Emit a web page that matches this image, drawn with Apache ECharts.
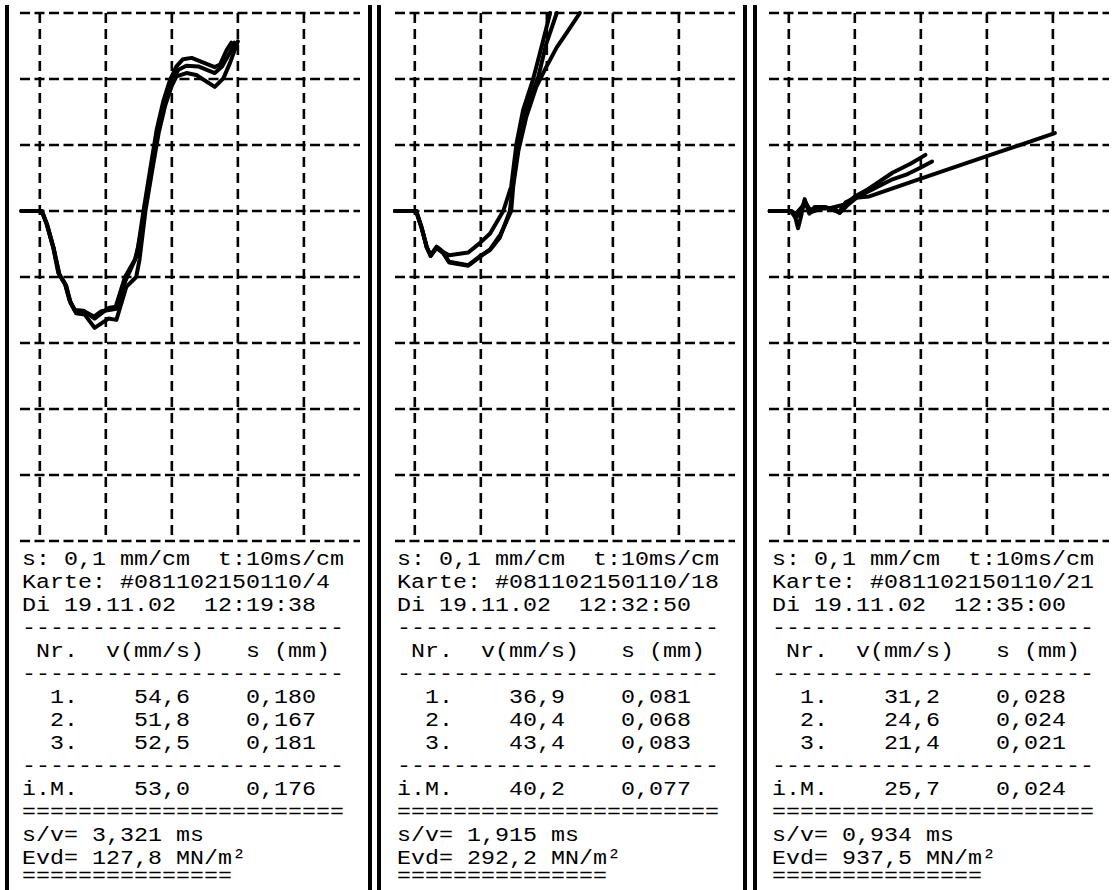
<!DOCTYPE html>
<html><head><meta charset="utf-8">
<script src="https://cdn.jsdelivr.net/npm/echarts@6/dist/echarts.min.js"></script>
<style>html,body{margin:0;padding:0;background:#fff}#c{width:1116px;height:890px}</style>
</head><body><div id="c"></div>
<script>
// ---- axes (t in ms, s in mm) ----
const timeGridLines = [0, 10, 20, 30, 40];
const dispGridLines = [-0.3, -0.2, -0.1, 0, 0.1, 0.2, 0.3, 0.4, 0.5];
const timeRange = [-3, 48.5];
const dispRange = [-0.3, 0.5];

// ---- panel 1 traces [t ms, s mm] ----
const p1Trace1 = [[-2.8,0],[0.3,0],[1.0,0.019],[2.0,0.054],[2.8,0.094],[3.8,0.110],[4.5,0.135],[5.3,0.150],[6.6,0.151],[8.3,0.163],[10.4,0.147],[11.5,0.145],[12.9,0.100],[14.4,0.074],[14.9,0.054],[15.7,0],[16.7,-0.062],[17.7,-0.123],[18.7,-0.166],[19.7,-0.198],[20.7,-0.219],[21.7,-0.230],[23.0,-0.232],[24.5,-0.226],[26.5,-0.218],[27.3,-0.222],[28.3,-0.244],[29.0,-0.255]];
const p1Trace2 = [[-2.8,0],[0.3,0],[1.1,0.020],[2.1,0.056],[2.9,0.095],[3.9,0.112],[4.6,0.138],[5.4,0.152],[6.7,0.152],[8.2,0.160],[9.3,0.152],[10.5,0.150],[11.6,0.148],[13.0,0.105],[14.6,0.070],[15.9,0],[16.9,-0.065],[17.9,-0.125],[18.9,-0.165],[19.9,-0.195],[21.0,-0.214],[22.2,-0.220],[24.0,-0.219],[26.5,-0.209],[27.6,-0.219],[28.8,-0.240],[29.5,-0.255]];
const p1Trace3 = [[-2.8,0],[0.3,0],[1.1,0.021],[2.1,0.057],[3.0,0.097],[4.0,0.113],[4.7,0.140],[5.5,0.155],[6.8,0.157],[8.3,0.177],[10.4,0.163],[11.6,0.165],[13.1,0.115],[14.6,0.100],[15.1,0.074],[16.0,0],[17.0,-0.060],[18.0,-0.118],[19.0,-0.160],[20.0,-0.190],[20.7,-0.204],[22.2,-0.209],[23.7,-0.206],[26.5,-0.188],[27.8,-0.201],[28.8,-0.224],[30.0,-0.257]];

// ---- panel 2 traces ----
const p2Trace1 = [[-3,0],[0.2,0],[1.0,0.024],[1.8,0.054],[2.4,0.067],[3.3,0.054],[4.3,0.062],[5.2,0.067],[8.1,0.063],[9.8,0.049],[11.4,0.034],[13.4,0],[14.6,-0.037],[15.4,-0.102],[16.4,-0.153],[17.9,-0.199],[19.2,-0.249],[20.5,-0.300]];
const p2Trace2 = [[-3,0],[0.2,0],[1.0,0.024],[1.8,0.055],[2.4,0.068],[3.3,0.055],[4.3,0.063],[5.2,0.077],[8.1,0.082],[9.8,0.069],[11.4,0.059],[12.9,0.040],[14.4,0],[15.2,-0.067],[15.9,-0.107],[17.0,-0.158],[18.7,-0.203],[19.9,-0.253],[21.5,-0.300]];
const p2Trace3 = [[-3,0],[0.2,0],[1.0,0.025],[1.8,0.055],[2.4,0.068],[3.3,0.056],[4.3,0.064],[5.2,0.078],[8.1,0.083],[9.8,0.070],[11.4,0.058],[13.0,0.035],[14.6,0],[14.9,-0.037],[15.7,-0.092],[16.9,-0.143],[18.4,-0.188],[19.9,-0.218],[21.5,-0.248],[23.0,-0.270],[25.0,-0.300]];

// ---- panel 3 traces ----
const p3Trace1 = [[-2.9,0],[0.3,0],[0.9,0.006],[1.4,0.026],[1.9,0.006],[2.4,-0.018],[3.1,0.004],[3.9,-0.006],[5.6,-0.006],[7.6,0.002],[8.6,-0.013],[10.1,-0.020],[12.2,-0.022],[20.0,-0.049],[30.0,-0.083],[40.3,-0.118]];
const p3Trace2 = [[-2.9,0],[0.3,0],[1.0,0.010],[1.6,0.005],[2.4,-0.015],[3.2,-0.002],[4.5,-0.004],[6.5,-0.005],[8.5,-0.010],[10.0,-0.022],[12.0,-0.033],[15.7,-0.058],[18.5,-0.072],[20.7,-0.085]];
const p3Trace3 = [[-2.9,0],[0.3,0],[1.1,0.004],[2.5,-0.012],[3.3,0.002],[5.0,-0.004],[7.0,-0.003],[7.7,0.003],[8.8,-0.008],[10.5,-0.022],[12.5,-0.032],[15.7,-0.048],[18.0,-0.056],[20.0,-0.066],[21.7,-0.075]];

// ---- printed report values ----
const scaleLine = 's: 0,1 mm/cm  t:10ms/cm';
const cardIds = ['#081102150110/4', '#081102150110/18', '#081102150110/21'];
const dateTimes = ['Di 19.11.02  12:19:38', 'Di 19.11.02  12:32:50', 'Di 19.11.02  12:35:00'];
const dropNumbers = ['1.', '2.', '3.'];
const vValues = [['54,6','51,8','52,5'], ['36,9','40,4','43,4'], ['31,2','24,6','21,4']];
const sValues = [['0,180','0,167','0,181'], ['0,081','0,068','0,083'], ['0,028','0,024','0,021']];
const vMeans = ['53,0', '40,2', '25,7'];
const sMeans = ['0,176', '0,077', '0,024'];
const svValues = ['3,321', '1,915', '0,934'];
const evdValues = ['127,8', '292,2', '937,5'];

const traces = [[p1Trace1,p1Trace2,p1Trace3],[p2Trace1,p2Trace2,p2Trace3],[p3Trace1,p3Trace2,p3Trace3]];

// ---- layout ----
const gridLefts = [20, 395, 769];
const textLefts = [22, 397, 772];
const FS = 21;
const FONT = FS + 'px "Liberation Mono", "DejaVu Sans Mono", monospace';
const SCALE_X = 14 / (0.6 * FS);

const grid = [], xAxis = [], yAxis = [], series = [], graphic = [];
const dashH = [10, 4.5], dashV = [10, 6];

for (let p = 0; p < 3; p++) {
  grid.push({ left: gridLefts[p], top: 13, width: 340, height: 528 });
  xAxis.push({ gridIndex: p, type: 'value', min: timeRange[0], max: timeRange[1], show: false });
  yAxis.push({ gridIndex: p, type: 'value', min: dispRange[0], max: dispRange[1], inverse: true, show: false });
  timeGridLines.forEach(t => series.push({
    type: 'line', xAxisIndex: p, yAxisIndex: p, silent: true, clip: false, showSymbol: false, symbol: 'none',
    data: [[t, dispRange[0]], [t, dispRange[1]]],
    lineStyle: { color: '#000', width: 2.6, type: dashV }
  }));
  dispGridLines.forEach(s => series.push({
    type: 'line', xAxisIndex: p, yAxisIndex: p, silent: true, clip: false, showSymbol: false, symbol: 'none',
    data: [[timeRange[0], s], [timeRange[1], s]],
    lineStyle: { color: '#000', width: 2.6, type: dashH }
  }));
  traces[p].forEach(tr => series.push({
    type: 'line', xAxisIndex: p, yAxisIndex: p, silent: true, showSymbol: false, symbol: 'none',
    data: tr, lineStyle: { color: '#000', width: 4, join: 'round', cap: 'round' }
  }));

  // printed text block
  const lines = [
    scaleLine,
    'Karte: ' + cardIds[p],
    dateTimes[p],
    '-'.repeat(23),
    ' Nr.  v(mm/s)   s (mm)',
    '-'.repeat(23),
    ...dropNumbers.map((n, i) => '  ' + n + '    ' + vValues[p][i] + '    ' + sValues[p][i]),
    '-'.repeat(23),
    'i.M.    ' + vMeans[p] + '    ' + sMeans[p],
    '='.repeat(23),
    's/v= ' + svValues[p] + ' ms',
    'Evd= ' + evdValues[p] + ' MN/m\u00B2',
    '='.repeat(15)
  ];
  lines.forEach((ln, k) => graphic.push({
    type: 'text', x: textLefts[p], y: Math.min(563 + 23 * k - 3, 877), scaleX: SCALE_X, silent: true,
    style: { text: ln, font: FONT, fill: '#000', align: 'left', verticalAlign: 'middle',
             textAlign: 'left', textVerticalAlign: 'middle' }
  }));
}

// panel borders
[[5,4],[368,4],[377,4],[743,4],[753,4]].forEach(b => graphic.push({
  type: 'rect', silent: true, shape: { x: b[0], y: 5, width: b[1], height: 890 }, style: { fill: '#000' }
}));

const chart = echarts.init(document.getElementById('c'), null, { renderer: 'svg' });
chart.setOption({ animation: false, backgroundColor: '#fff', grid, xAxis, yAxis, series, graphic });
</script>
</body></html>
